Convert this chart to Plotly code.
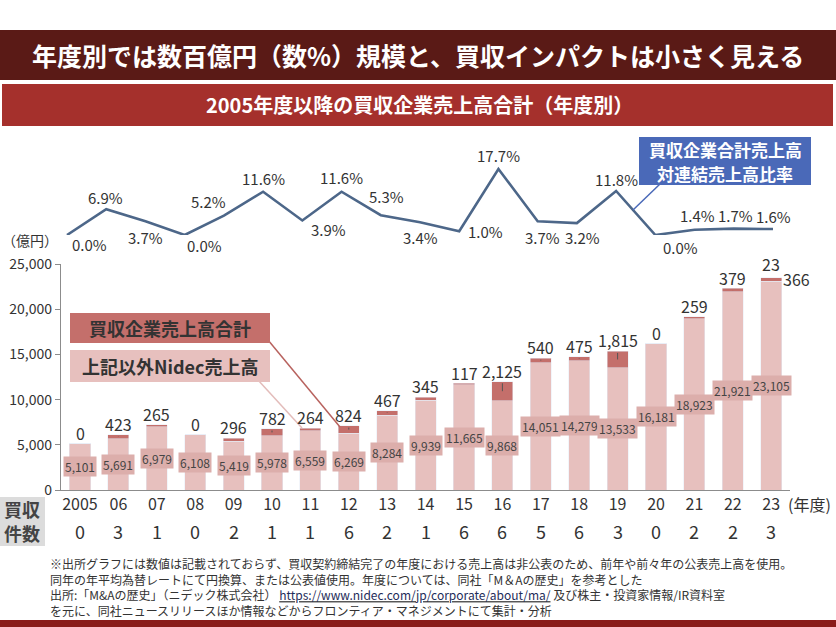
import plotly.graph_objects as go

# ---------------- data ----------------
years = ["2005", "06", "07", "08", "09", "10", "11", "12", "13", "14",
         "15", "16", "17", "18", "19", "20", "21", "22", "23"]
other_sales = [5101, 5691, 6979, 6108, 5419, 5978, 6559, 6269, 8284, 9939,
               11665, 9868, 14051, 14279, 13533, 16181, 18923, 21921, 23105]
acq_sales = [0, 423, 265, 0, 296, 782, 264, 824, 467, 345,
             117, 2125, 540, 475, 1815, 0, 259, 379, 366]
ratio_pct = [0.0, 6.9, 3.7, 0.0, 5.2, 11.6, 3.9, 11.6, 5.3, 3.4,
             1.0, 17.7, 3.7, 3.2, 11.8, 0.0, 1.4, 1.7, 1.6]
deal_counts = [0, 3, 1, 0, 2, 1, 1, 6, 2, 1, 6, 6, 5, 6, 3, 0, 2, 2, 3]
fy23_above_label = "23"
y_ticks = [0, 5000, 10000, 15000, 20000, 25000]

# label offsets for ratio line (style, pixels)
ratio_offsets = [(22, -9), (-1, 12), (0, -16), (20, -10), (-15, 14), (0, 13),
                 (26, -9), (0, 14), (6, 19), (0, -15), (26, 0), (0, 13),
                 (5, -16), (6, -14), (0, 11), (25, -12), (3, 14), (2, 13), (1, 13)]

FONT = "Noto Sans CJK JP"
W, H = 836, 627
LIGHT = "#e7c0be"
DARK = "#c46f6b"
LABEL_BG = "#dcaeab"
LINE = "#4d6789"
TXT = "#333333"
LABEL_GAP = 1200  # data units between bar top and label centre (style)


def px(x):
    return x / W


def py(y):
    return 1 - y / H


def paper_text(x, y, text, size, color=TXT, xanchor="center", align="center"):
    return dict(x=px(x), y=py(y), xref="paper", yref="paper", text=text,
                xanchor=xanchor, yanchor="middle", showarrow=False, align=align,
                font=dict(family=FONT, size=size, color=color))


idx = list(range(len(years)))

fig = go.Figure()

fig.add_trace(go.Bar(x=idx, y=other_sales, marker_color=LIGHT, width=0.55,
                     name="上記以外Nidec売上高", hoverinfo="skip"))
fig.add_trace(go.Bar(x=idx, y=acq_sales, marker_color=DARK, width=0.55,
                     name="買収企業売上高合計", hoverinfo="skip"))

fig.add_trace(go.Scatter(x=idx, y=ratio_pct, mode="lines",
                         line=dict(color=LINE, width=2.6), xaxis="x2", yaxis="y2",
                         hoverinfo="skip"))

ann = []
shapes = []

# bottom value labels
for i, v in zip(idx, other_sales):
    ann.append(dict(x=i, y=v / 2, xref="x", yref="y", text=f"{v:,}",
                    showarrow=False, bgcolor=LABEL_BG, borderpad=1,
                    xanchor="center", yanchor="middle",
                    font=dict(family=FONT, size=12, color="#444444")))

# top value labels with leader ticks
for i, b, t in zip(idx, other_sales, acq_sales):
    total = b + t
    if i == len(years) - 1:
        ann.append(dict(x=i, y=total, xref="x", yref="y", text=fy23_above_label,
                        showarrow=False, xanchor="center", yanchor="bottom", yshift=0,
                        font=dict(family=FONT, size=16, color=TXT)))
        ann.append(dict(x=i, y=b + t / 2, xref="x", yref="y", text=f"{t:,}",
                        showarrow=True, arrowhead=0, arrowwidth=1.2, arrowcolor=DARK,
                        ax=25, ay=0, standoff=0,
                        font=dict(family=FONT, size=16, color=TXT)))
        continue
    ann.append(dict(x=i, y=b + t / 2, xref="x", yref="y", text=f"{t:,}",
                    showarrow=True, arrowhead=0, arrowwidth=1, arrowcolor="#555555",
                    axref="pixel", ax=0, ayref="y", ay=total + LABEL_GAP,
                    standoff=0, borderpad=0,
                    font=dict(family=FONT, size=16, color=TXT)))

# ratio labels
for i, v, (dx, dy) in zip(idx, ratio_pct, ratio_offsets):
    ann.append(dict(x=i, y=v, xref="x2", yref="y2", text=f"{v:.1f}%",
                    showarrow=False, xshift=dx, yshift=dy,
                    xanchor="center", yanchor="middle",
                    font=dict(family=FONT, size=15, color=TXT)))

# deal counts
for i, n in zip(idx, deal_counts):
    ann.append(dict(x=i, y=py(531), xref="x", yref="paper", text=str(n),
                    showarrow=False, xanchor="center", yanchor="middle",
                    font=dict(family=FONT, size=18, color=TXT)))

# title band
shapes.append(dict(type="rect", xref="paper", yref="paper", x0=0, x1=1,
                   y0=py(80), y1=py(30), fillcolor="#5a1a16", line_width=0, layer="below"))
ann.append(paper_text(418, 55, "<b>年度別では数百億円（数%）規模と、買収インパクトは小さく見える</b>",
                      25, "white"))
# subtitle band
shapes.append(dict(type="rect", xref="paper", yref="paper", x0=px(2), x1=px(833),
                   y0=py(126), y1=py(84), fillcolor="#a5302c", line_width=0, layer="below"))
ann.append(paper_text(420, 105, "<b>2005年度以降の買収企業売上高合計（年度別）</b>", 20, "white"))
# bottom band
shapes.append(dict(type="rect", xref="paper", yref="paper", x0=0, x1=1,
                   y0=0, y1=py(620), fillcolor="#8a1c1a", line_width=0, layer="below"))

# ratio callout
shapes.append(dict(type="line", xref="paper", yref="paper", x0=px(660), y0=py(184),
                   x1=px(633), y1=py(210), line=dict(color="#4a69b8", width=1.5)))
shapes.append(dict(type="rect", xref="paper", yref="paper", x0=px(639), x1=px(811),
                   y0=py(185), y1=py(137), fillcolor="#4a69b8", line_width=0))
ann.append(paper_text(725, 149, "<b>買収企業合計売上高</b>", 17, "white"))
ann.append(paper_text(725, 173, "<b>対連結売上高比率</b>", 17, "white"))

# legend callouts
shapes.append(dict(type="line", xref="paper", yref="paper", x0=px(268), y0=py(340),
                   x1=px(340), y1=py(427), line=dict(color="#b8625e", width=1.5)))
shapes.append(dict(type="line", xref="paper", yref="paper", x0=px(258), y0=py(380),
                   x1=px(302), y1=py(428), line=dict(color="#e3bcba", width=1.5)))
shapes.append(dict(type="rect", xref="paper", yref="paper", x0=px(70), x1=px(270),
                   y0=py(343), y1=py(313), fillcolor=DARK, line_width=0))
shapes.append(dict(type="rect", xref="paper", yref="paper", x0=px(70), x1=px(270),
                   y0=py(382), y1=py(350), fillcolor=LIGHT, line_width=0))
ann.append(paper_text(170, 328, "<b>買収企業売上高合計</b>", 18))
ann.append(paper_text(170, 366, "<b>上記以外Nidec売上高</b>", 18))

# unit labels
ann.append(paper_text(0, 240, "（億円）", 14, xanchor="left"))
ann.append(paper_text(786, 504, "(年度)", 16, xanchor="left"))

# 買収件数 box
shapes.append(dict(type="rect", xref="paper", yref="paper", x0=0, x1=px(45),
                   y0=py(546), y1=py(497), fillcolor="#dcdcdc", line_width=0, layer="below"))
ann.append(paper_text(22, 509, "<b>買収</b>", 18, "#444444"))
ann.append(paper_text(22, 533, "<b>件数</b>", 18, "#444444"))

# footnotes
notes = [
    "※出所グラフには数値は記載されておらず、買収契約締結完了の年度における売上高は非公表のため、前年や前々年の公表売上高を使用。",
    "同年の年平均為替レートにて円換算、または公表値使用。年度については、同社「M＆Aの歴史」を参考とした",
    "出所:「M&Aの歴史」（ニデック株式会社） <u><span style='color:#1f2d5a'>https://www.nidec.com/jp/corporate/about/ma/</span></u> 及び株主・投資家情報/IR資料室",
    "を元に、同社ニュースリリースほか情報などからフロンティア・マネジメントにて集計・分析",
]
ann.append(paper_text(48, 587, "<br>".join(notes), 12, xanchor="left", align="left"))

fig.update_layout(
    width=W, height=H, margin=dict(l=0, r=0, t=0, b=0, autoexpand=False),
    paper_bgcolor="white", plot_bgcolor="white",
    barmode="stack", showlegend=False,
    font=dict(family=FONT, color=TXT),
    xaxis=dict(domain=[px(60.8), px(790.4)], range=[-0.5, 18.5], tickvals=idx,
               ticktext=years, showline=True, automargin=False,
               linecolor="#8c8c8c", linewidth=1, ticks="", showgrid=False, zeroline=False,
               tickfont=dict(family=FONT, size=16, color=TXT)),
    yaxis=dict(domain=[py(490), py(264)], range=[0, 25000], tickvals=y_ticks,
               tickformat=",", showline=True, linecolor="#8c8c8c", linewidth=1,
               ticks="outside", ticklen=5, tickcolor="#8c8c8c", showgrid=False,
               zeroline=False, automargin=False,
               tickfont=dict(family=FONT, size=14, color=TXT)),
    xaxis2=dict(domain=[px(47.4), px(792.6)], range=[-0.5, 18.5], visible=False,
                anchor="y2"),
    yaxis2=dict(domain=[py(235), py(160.4)], range=[0, 20], visible=False, anchor="x2"),
    annotations=ann, shapes=shapes,
)

fig.write_html("out.html")
